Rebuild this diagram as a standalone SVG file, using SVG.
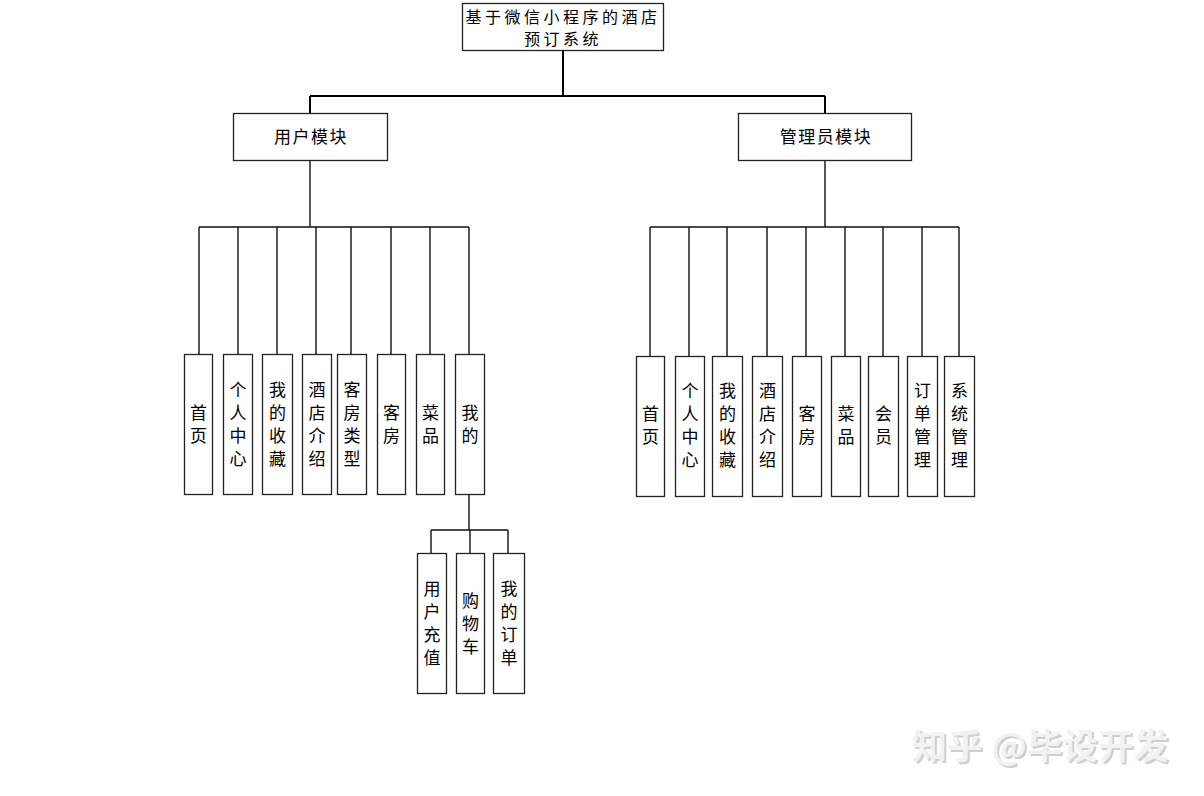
<svg xmlns="http://www.w3.org/2000/svg" width="1204" height="796" viewBox="0 0 1204 796">
<style>
.box{fill:#fff;stroke:#222;stroke-width:1.3}
.ln{fill:none;stroke:#111;stroke-width:1.4}
.thick{fill:none;stroke:#000;stroke-width:2}
.t{font-family:"Noto Sans CJK SC","Liberation Sans",sans-serif;font-size:17px;fill:#000;text-anchor:middle}
.t2{font-family:"Noto Sans CJK SC","Liberation Sans",sans-serif;font-size:16px;fill:#000;text-anchor:middle}
.wm{font-family:"Noto Sans CJK SC","Liberation Sans",sans-serif;font-size:35px;font-weight:bold;text-anchor:start}
</style>
<rect width="1204" height="796" fill="#fff"/>
<g id="connectors">
<path class="thick" d="M563 50V96M310 96H825M310 96V113M825 96V113"/>
<path class="ln" d="M310 160V227M199 227H469M199 227V354M238 227V354M277 227V354M316 227V354M351 227V354M391 227V354M430 227V354M469 227V354"/>
<path class="ln" d="M825 160V227M650 227H959M650 227V356M689 227V356M727 227V356M767 227V356M806 227V356M845 227V356M883 227V356M922 227V356M959 227V356"/>
<path class="ln" d="M469 494V530M431 530H508M431 530V553M470 530V553M508 530V553"/>
</g>
<g id="root"><rect class="box" x="462.500" y="3.500" width="201" height="47"/>
<text class="t2" x="563" y="23" letter-spacing="3.5">基于微信小程序的酒店</text><text class="t2" x="563" y="45" letter-spacing="3.5">预订系统</text></g>
<g id="user"><rect class="box" x="233.500" y="113.500" width="154" height="47"/><text class="t" x="311" y="143" letter-spacing="1.5">用户模块</text></g>
<g id="admin"><rect class="box" x="738.500" y="113.500" width="173" height="47"/><text class="t" x="826" y="143" letter-spacing="1.5">管理员模块</text></g>
<g id="u1"><rect class="box" x="184.500" y="354.500" width="28" height="140"/><text class="t" x="198.500"><tspan x="198.500" y="419">首</tspan><tspan x="198.500" y="442">页</tspan></text></g>
<g id="u2"><rect class="box" x="223.500" y="354.500" width="29" height="140"/><text class="t"><tspan x="238" y="396">个</tspan><tspan x="238" y="419">人</tspan><tspan x="238" y="442">中</tspan><tspan x="238" y="465">心</tspan></text></g>
<g id="u3"><rect class="box" x="262.500" y="354.500" width="30" height="140"/><text class="t"><tspan x="277.500" y="396">我</tspan><tspan x="277.500" y="419">的</tspan><tspan x="277.500" y="442">收</tspan><tspan x="277.500" y="465">藏</tspan></text></g>
<g id="u4"><rect class="box" x="302.500" y="354.500" width="29" height="140"/><text class="t"><tspan x="317" y="396">酒</tspan><tspan x="317" y="419">店</tspan><tspan x="317" y="442">介</tspan><tspan x="317" y="465">绍</tspan></text></g>
<g id="u5"><rect class="box" x="337.500" y="354.500" width="29" height="140"/><text class="t"><tspan x="352" y="396">客</tspan><tspan x="352" y="419">房</tspan><tspan x="352" y="442">类</tspan><tspan x="352" y="465">型</tspan></text></g>
<g id="u6"><rect class="box" x="377.500" y="354.500" width="28" height="140"/><text class="t"><tspan x="391.500" y="419">客</tspan><tspan x="391.500" y="442">房</tspan></text></g>
<g id="u7"><rect class="box" x="416.500" y="354.500" width="28" height="140"/><text class="t"><tspan x="430.500" y="419">菜</tspan><tspan x="430.500" y="442">品</tspan></text></g>
<g id="u8"><rect class="box" x="455.500" y="354.500" width="29" height="140"/><text class="t"><tspan x="470" y="419">我</tspan><tspan x="470" y="442">的</tspan></text></g>
<g id="s1"><rect class="box" x="417.500" y="553.500" width="29" height="140"/><text class="t"><tspan x="432" y="595">用</tspan><tspan x="432" y="618">户</tspan><tspan x="432" y="641">充</tspan><tspan x="432" y="664">值</tspan></text></g>
<g id="s2"><rect class="box" x="456.500" y="553.500" width="28" height="140"/><text class="t"><tspan x="470.500" y="607">购</tspan><tspan x="470.500" y="630">物</tspan><tspan x="470.500" y="653">车</tspan></text></g>
<g id="s3"><rect class="box" x="493.500" y="553.500" width="31" height="140"/><text class="t"><tspan x="509" y="595">我</tspan><tspan x="509" y="618">的</tspan><tspan x="509" y="641">订</tspan><tspan x="509" y="664">单</tspan></text></g>
<g id="a1"><rect class="box" x="636.500" y="356.500" width="28" height="140"/><text class="t"><tspan x="650.500" y="420">首</tspan><tspan x="650.500" y="443">页</tspan></text></g>
<g id="a2"><rect class="box" x="675.500" y="356.500" width="29" height="140"/><text class="t"><tspan x="690" y="397">个</tspan><tspan x="690" y="420">人</tspan><tspan x="690" y="443">中</tspan><tspan x="690" y="466">心</tspan></text></g>
<g id="a3"><rect class="box" x="712.500" y="356.500" width="30" height="140"/><text class="t"><tspan x="727.500" y="397">我</tspan><tspan x="727.500" y="420">的</tspan><tspan x="727.500" y="443">收</tspan><tspan x="727.500" y="466">藏</tspan></text></g>
<g id="a4"><rect class="box" x="752.500" y="356.500" width="30" height="140"/><text class="t"><tspan x="767.500" y="397">酒</tspan><tspan x="767.500" y="420">店</tspan><tspan x="767.500" y="443">介</tspan><tspan x="767.500" y="466">绍</tspan></text></g>
<g id="a5"><rect class="box" x="792.500" y="356.500" width="29" height="140"/><text class="t"><tspan x="807" y="420">客</tspan><tspan x="807" y="443">房</tspan></text></g>
<g id="a6"><rect class="box" x="831.500" y="356.500" width="29" height="140"/><text class="t"><tspan x="846" y="420">菜</tspan><tspan x="846" y="443">品</tspan></text></g>
<g id="a7"><rect class="box" x="868.500" y="356.500" width="30" height="140"/><text class="t"><tspan x="883.500" y="420">会</tspan><tspan x="883.500" y="443">员</tspan></text></g>
<g id="a8"><rect class="box" x="907.500" y="356.500" width="30" height="140"/><text class="t"><tspan x="922.500" y="397">订</tspan><tspan x="922.500" y="420">单</tspan><tspan x="922.500" y="443">管</tspan><tspan x="922.500" y="466">理</tspan></text></g>
<g id="a9"><rect class="box" x="944.500" y="356.500" width="30" height="140"/><text class="t"><tspan x="959.500" y="397">系</tspan><tspan x="959.500" y="420">统</tspan><tspan x="959.500" y="443">管</tspan><tspan x="959.500" y="466">理</tspan></text></g>
<g id="watermark">
<text class="wm" x="914" y="761" fill="#cfcfcf" letter-spacing="0.5">知乎 @毕设开发</text>
<text class="wm" x="912" y="759" fill="#f2f2f2" letter-spacing="0.5">知乎 @毕设开发</text>
</g>
</svg>
